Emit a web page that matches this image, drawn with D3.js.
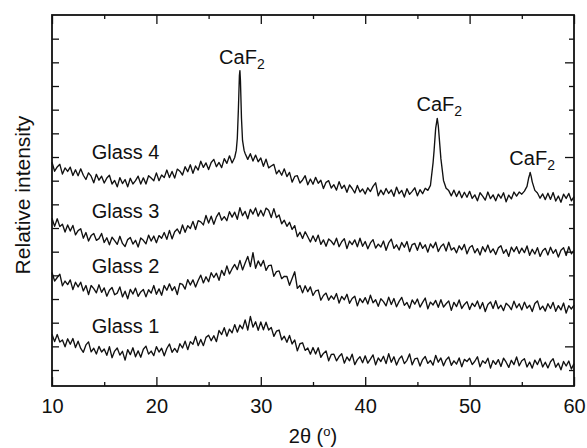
<!DOCTYPE html>
<html>
<head>
<meta charset="utf-8">
<script src="https://cdn.jsdelivr.net/npm/d3@7"></script>
<style>
  body { margin: 0; background: #fff; }
  svg { display: block; font-family: "Liberation Sans", Arial, Helvetica, sans-serif; }
</style>
</head>
<body>
<svg id="chart"></svg>
<script>
// XRD patterns, start angle + step like a .xy scan file
const thetaStart = 10;
const thetaStep = 0.25;

const glass1 = [
  15.1,12.0,15.0,11.8,12.7,9.8,13.2,10.9,13.3,9.5,
  12.2,9.1,7.5,10.6,11.9,7.7,9.2,6.8,10.0,7.6,
  8.9,6.2,9.9,5.2,8.0,9.3,6.3,7.9,4.2,8.6,
  6.5,9.4,5.6,8.1,5.4,8.8,10.1,6.7,8.0,6.1,
  9.9,7.6,9.2,6.0,9.1,11.0,7.5,9.1,7.5,11.1,
  9.3,12.2,8.6,12.0,10.9,14.2,10.3,12.9,10.3,13.8,
  14.7,12.4,14.5,12.0,16.7,15.0,17.9,14.3,17.3,15.7,
  19.2,16.0,19.0,17.4,21.2,16.9,22.6,18.1,20.4,16.8,
  20.3,17.0,20.2,16.9,18.0,14.2,16.4,16.9,12.8,14.3,
  11.7,14.6,11.0,12.7,8.1,11.1,11.5,8.3,9.3,6.7,
  9.5,6.8,9.4,5.4,7.0,8.1,3.9,6.6,6.7,3.9,
  5.7,6.9,2.9,5.5,3.9,6.7,2.3,4.4,5.6,3.1,
  6.0,2.9,4.6,6.4,2.2,5.1,3.6,5.8,2.7,6.9,
  3.3,5.6,2.1,4.7,5.9,2.7,4.1,6.8,2.2,4.7,
  5.0,1.7,4.4,5.7,2.8,4.0,2.1,6.2,3.3,5.1,
  1.8,4.3,5.5,2.0,3.9,2.5,5.1,1.4,4.5,3.6,
  5.0,2.3,3.7,5.6,1.4,3.9,2.8,5.0,0.8,4.0,
  2.4,4.4,1.5,5.0,3.3,1.1,4.1,2.3,5.5,1.8,
  3.9,4.8,1.3,3.4,0.8,4.2,2.3,4.9,1.3,3.3,
  0.9,3.5,4.8,1.2,2.9,0.1,3.6,1.7,3.8,0.4,
  2.7
];

const glass2 = [
  41.2,37.6,39.1,40.5,35.6,37.6,36.1,38.1,34.0,37.1,
  35.1,37.1,33.4,35.7,31.9,35.7,34.4,32.6,36.0,32.8,
  34.7,31.2,33.7,34.9,31.8,32.5,35.1,30.9,33.3,30.1,
  34.1,32.1,34.6,31.1,33.0,34.0,30.9,33.9,32.5,35.7,
  32.0,34.3,31.6,35.7,33.7,36.4,33.6,35.2,31.9,36.6,
  36.2,34.2,38.2,35.9,38.1,35.1,37.8,40.1,36.8,39.4,
  37.3,41.1,39.1,40.9,37.9,42.1,40.0,44.0,40.6,42.8,
  44.6,42.4,46.3,42.3,45.2,48.0,43.7,49.6,43.0,46.1,
  43.9,46.3,42.1,44.1,44.3,39.6,41.6,41.9,38.6,39.6,
  39.5,35.8,38.7,41.5,34.5,35.7,32.6,35.6,33.1,35.1,
  31.5,33.4,33.8,29.5,31.5,32.5,29.5,31.3,29.9,32.3,
  28.3,31.1,29.7,32.0,28.2,30.2,31.2,27.1,30.2,28.5,
  30.6,27.9,31.6,28.4,29.7,26.9,30.1,28.9,27.1,30.8,
  27.7,30.2,26.7,29.0,30.7,27.3,28.5,26.1,29.6,27.8,
  30.0,26.6,28.6,30.4,25.9,28.7,27.5,29.4,26.5,29.7,
  26.6,28.0,29.2,25.2,28.6,26.8,29.6,26.0,27.7,28.9,
  25.6,28.2,26.8,29.2,25.9,28.5,24.7,27.7,28.8,26.0,
  29.3,25.9,27.4,25.1,28.2,27.2,25.5,29.1,26.3,28.0,
  25.4,28.7,26.1,27.4,24.7,28.1,29.2,25.5,27.0,24.9,
  28.0,26.0,28.6,24.8,27.2,25.4,28.3,24.1,27.2,25.8,
  27.4
];

const glass3 = [
  64.1,60.7,63.9,60.6,61.6,58.3,61.3,58.7,61.1,57.1,
  58.9,59.7,55.7,58.1,54.5,56.8,57.7,54.8,55.5,57.7,
  53.9,55.9,52.9,56.1,54.7,53.1,56.5,53.5,52.2,55.1,
  56.0,53.2,54.8,52.0,55.8,54.8,53.3,57.0,54.5,56.6,
  53.8,56.8,55.7,58.1,55.2,59.0,55.4,58.4,59.6,57.6,
  61.3,58.2,61.0,59.8,62.8,59.4,63.1,62.6,61.3,65.3,
  62.1,65.0,61.6,64.7,66.5,63.3,64.8,63.1,66.9,64.6,
  66.7,63.7,68.6,65.2,67.0,63.9,67.9,65.9,68.5,65.0,
  67.5,65.1,68.4,67.5,64.4,68.2,64.4,65.5,61.8,63.3,
  60.7,62.4,59.4,61.0,56.4,58.2,55.6,58.4,56.3,54.1,
  56.7,54.3,57.0,53.1,55.0,52.3,55.4,54.4,52.9,55.7,
  52.1,54.2,55.5,51.3,54.5,53.0,55.0,52.1,55.7,52.3,
  54.3,51.2,53.7,55.1,51.5,53.2,52.0,54.5,50.6,53.7,
  55.3,51.4,52.9,50.7,53.9,51.9,54.3,50.0,53.0,53.5,
  50.6,53.9,51.4,52.9,49.8,53.3,51.6,54.0,50.1,52.2,
  53.3,50.3,54.0,50.7,51.7,49.5,52.5,50.8,53.1,49.1,
  51.8,52.6,49.5,51.3,48.6,52.1,50.0,52.8,49.6,51.2,
  48.8,51.6,52.5,49.3,50.9,48.0,51.9,50.0,52.1,49.2,
  51.5,49.6,52.4,48.5,51.0,49.0,51.7,48.0,50.4,51.4,
  48.6,51.9,49.3,50.9,47.7,50.6,51.7,48.4,52.1,49.1,
  50.7
];

const glass4 = [
  87.8,84.0,85.8,86.9,82.8,85.4,83.9,85.7,82.2,84.6,
  82.1,85.0,82.3,80.5,83.3,81.9,79.1,82.7,80.2,81.9,
  79.0,81.1,82.3,78.6,80.1,77.4,81.3,78.8,80.5,77.4,
  81.0,78.6,80.0,81.9,78.6,81.2,78.6,82.1,81.1,80.0,
  83.3,80.0,82.4,81.3,84.5,81.3,83.9,81.1,84.9,84.0,
  82.4,85.9,83.8,86.7,83.1,86.2,84.5,88.2,85.6,87.5,
  84.7,87.7,89.0,85.9,87.7,85.5,89.3,87.3,90.5,87.5,
  89.8,97.9,126.5,97.0,91.5,89.0,91.4,88.3,90.8,88.0,
  89.6,86.1,89.1,85.4,86.2,86.9,82.9,84.4,82.3,85.0,
  81.7,83.5,79.4,81.8,82.1,79.0,80.3,82.1,78.3,80.7,
  78.5,81.4,78.9,80.2,76.7,79.3,80.0,76.9,78.3,76.0,
  79.6,76.7,78.1,75.1,78.2,76.7,74.8,78.0,75.2,76.5,
  74.4,77.0,75.4,77.6,79.1,73.6,76.0,74.1,76.7,74.6,
  76.1,73.4,77.3,74.5,75.9,73.1,76.6,74.2,75.5,77.0,
  73.6,76.2,74.5,76.8,75.9,78.0,87.5,102.1,103.3,89.3,
  80.1,76.8,75.8,73.6,76.0,73.3,75.6,72.8,75.1,73.0,
  75.5,72.5,74.0,71.5,74.9,73.5,71.8,75.2,72.4,74.0,
  71.5,74.3,72.6,74.9,71.1,73.9,72.3,75.2,73.5,75.2,
  74.3,75.6,77.6,82.5,79.5,75.9,74.8,72.6,74.4,72.0,
  74.7,72.1,75.0,71.4,73.5,70.9,74.3,72.5,74.6,71.5,
  73.3
];

// finer points measured across the sharp CaF2 reflections of Glass 4
const glass4Peaks = [
  [27.65,92.8],[27.85,109.7],[27.95,124.4],[28.05,122.3],[28.15,106.3],[28.4,92.8],
  [46.6,92.8],[46.9,106.3],[47.15,94.9],
  [55.65,81.0],[55.8,83.5],[55.9,81.8]
];

const seriesNames = ["Glass 1", "Glass 2", "Glass 3", "Glass 4"];
const nameTheta = 13.8;
const nameLevels = [15.6, 40.9, 64.1, 89.0];

const peakTheta = [28.0, 46.9, 55.8];
const peakTop = [126.5, 106.3, 83.5];

const xTicks = [10, 20, 30, 40, 50, 60];
const xMinor = [15, 25, 35, 45, 55];
const yTicks = [0, 10, 20, 30, 40, 50, 60, 70, 80, 90, 100, 110, 120, 130, 140];
const yMajor = [10, 50, 90, 130];

const w = 587;
const h = 448;
const plotL = 52, plotR = 574, plotT = 15, plotB = 386;

const svg = d3.select('#chart')
    .attr('width', w)
    .attr('height', h);

svg.append('rect').attr('width', w).attr('height', h).attr('fill', '#fff');

const x = d3.scaleLinear().domain([10, 60]).range([plotL, plotR]);
const y = d3.scaleLinear().domain([-6.75, 150]).range([plotB, plotT]);

const toPoints = vals => vals.map((v, i) => [thetaStart + i * thetaStep, v]);
const series = [
    toPoints(glass1),
    toPoints(glass2),
    toPoints(glass3),
    toPoints(glass4).concat(glass4Peaks).sort((a, b) => a[0] - b[0])
];

// axes (ticks pointing inward, frame drawn separately)
const styleAxis = g => {
    g.select('.domain').remove();
    g.selectAll('line').attr('stroke', '#111').attr('stroke-width', 1.3);
};

svg.append('g')
    .attr('transform', `translate(0,${plotB})`)
    .call(d3.axisBottom(x).tickValues(xTicks).tickSize(-9).tickSizeOuter(0).tickFormat(d3.format('d')))
    .call(styleAxis)
    .call(g => g.selectAll('text')
        .attr('y', 27).attr('dy', null)
        .attr('fill', '#111')
        .style('font-size', '20px')
        .style('font-family', '"Liberation Sans", Arial, sans-serif'));
svg.append('g')
    .attr('transform', `translate(0,${plotB})`)
    .call(d3.axisBottom(x).tickValues(xMinor).tickSize(-4).tickFormat(''))
    .call(styleAxis);

svg.append('g')
    .attr('transform', `translate(0,${plotT})`)
    .call(d3.axisTop(x).tickValues(xTicks).tickSize(-9).tickFormat(''))
    .call(styleAxis);
svg.append('g')
    .attr('transform', `translate(0,${plotT})`)
    .call(d3.axisTop(x).tickValues(xMinor).tickSize(-4).tickFormat(''))
    .call(styleAxis);

svg.append('g')
    .attr('transform', `translate(${plotL},0)`)
    .call(d3.axisLeft(y).tickValues(yTicks).tickSize(-7).tickFormat(''))
    .call(styleAxis);

svg.append('g')
    .attr('transform', `translate(${plotR},0)`)
    .call(d3.axisRight(y).tickValues(yMajor).tickSize(-9).tickFormat(''))
    .call(styleAxis);
svg.append('g')
    .attr('transform', `translate(${plotR},0)`)
    .call(d3.axisRight(y).tickValues(yTicks.filter(t => !yMajor.includes(t))).tickSize(-5).tickFormat(''))
    .call(styleAxis);

svg.append('rect')
    .attr('x', plotL).attr('y', plotT)
    .attr('width', plotR - plotL).attr('height', plotB - plotT)
    .attr('fill', 'none')
    .attr('stroke', '#111')
    .attr('stroke-width', 1.8);

// patterns
const line = d3.line()
    .x(d => x(d[0]))
    .y(d => y(d[1]));

svg.append('g')
    .selectAll('path')
    .data(series)
    .join('path')
        .attr('d', line)
        .attr('fill', 'none')
        .attr('stroke', '#111')
        .attr('stroke-width', 1.35)
        .attr('stroke-linejoin', 'round');

// sample names
svg.append('g')
    .selectAll('text')
    .data(seriesNames)
    .join('text')
        .attr('x', x(nameTheta))
        .attr('y', (d, i) => y(nameLevels[i]))
        .attr('fill', '#111')
        .style('font-size', '20px')
        .text(d => d);

// CaF2 peak labels
const caf = svg.append('g')
    .selectAll('text')
    .data(peakTheta)
    .join('text')
        .attr('x', d => x(d) + 2)
        .attr('y', (d, i) => y(peakTop[i]) - 7)
        .attr('text-anchor', 'middle')
        .attr('fill', '#111')
        .style('font-size', '20px');
caf.append('tspan').text('CaF');
caf.append('tspan').attr('dy', 5).style('font-size', '14px').text('2');

// axis titles
const xt = svg.append('text')
    .attr('x', (plotL + plotR) / 2)
    .attr('y', 443)
    .attr('text-anchor', 'middle')
    .attr('fill', '#111')
    .style('font-size', '20px');
xt.append('tspan').text('2θ (');
xt.append('tspan').attr('dy', -7).style('font-size', '13px').text('o');
xt.append('tspan').attr('dy', 7).text(')');

svg.append('text')
    .attr('transform', 'translate(30,195) rotate(-90)')
    .attr('text-anchor', 'middle')
    .attr('fill', '#111')
    .style('font-size', '21px')
    .text('Relative intensity');
</script>
</body>
</html>
